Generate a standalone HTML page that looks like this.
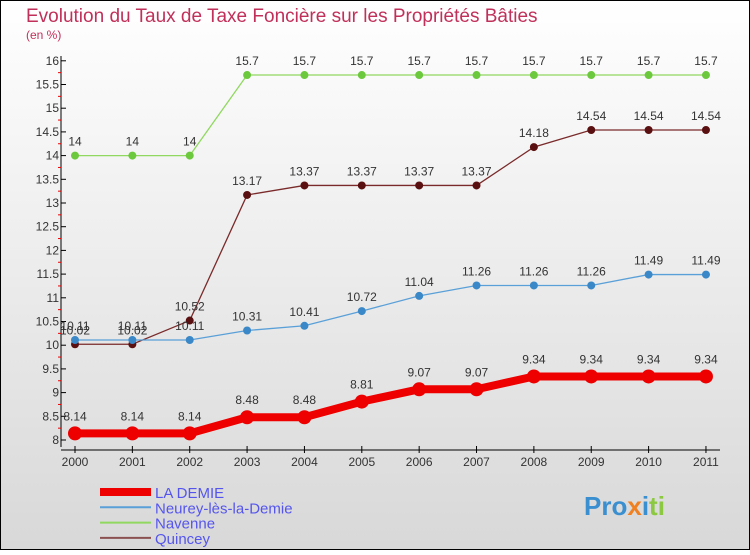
<!DOCTYPE html>
<html><head><meta charset="utf-8"><style>
body{margin:0}
svg text{font-family:"Liberation Sans",sans-serif}
</style></head><body>
<svg width="750" height="550" xmlns="http://www.w3.org/2000/svg">
<defs><linearGradient id="bg" x1="0" y1="0" x2="0" y2="1"><stop offset="0" stop-color="#ffffff"/><stop offset="1" stop-color="#d8d8d8"/></linearGradient></defs>
<rect x="0.5" y="0.5" width="749" height="549" fill="url(#bg)" stroke="#000"/>
<text x="26" y="22" font-size="19" fill="#c0305a">Evolution du Taux de Taxe Foncière sur les Propriétés Bâties</text>
<text x="26" y="39" font-size="12" fill="#c0305a">(en %)</text>
<g id="axes"></g>
<g id="series"></g>
<g id="legend"></g>
<text x="584" y="515" font-size="26" font-weight="bold" fill="#3a8fd0">Pro<tspan fill="#f08020">x</tspan><tspan fill="#3a8fd0">i</tspan><tspan fill="#8cc840">ti</tspan></text>
</svg>
<script>
const years=[2000,2001,2002,2003,2004,2005,2006,2007,2008,2009,2010,2011];
const laDemie=[8.14,8.14,8.14,8.48,8.48,8.81,9.07,9.07,9.34,9.34,9.34,9.34];
const neurey=[10.11,10.11,10.11,10.31,10.41,10.72,11.04,11.26,11.26,11.26,11.49,11.49];
const navenne=[14,14,14,15.7,15.7,15.7,15.7,15.7,15.7,15.7,15.7,15.7];
const quincey=[10.02,10.02,10.52,13.17,13.37,13.37,13.37,13.37,14.18,14.54,14.54,14.54];
const yTicks=[8,8.5,9,9.5,10,10.5,11,11.5,12,12.5,13,13.5,14,14.5,15,15.5,16];
const NS="http://www.w3.org/2000/svg";
const X=i=>75+i*57.36, Y=v=>440-(v-8)*47.4;
function mk(t,a,p){const e=document.createElementNS(NS,t);for(const k in a)e.setAttribute(k,a[k]);p.appendChild(e);return e;}
const ax=document.getElementById('axes');
let yl=mk('line',{x1:61,y1:56,x2:61,y2:447,stroke:'#000'},ax);

let xl=mk('line',{x1:61,y1:450,x2:720,y2:450,stroke:'#000'},ax);

yTicks.forEach(v=>{mk('line',{x1:61,y1:Y(v),x2:66,y2:Y(v),stroke:'#000'},ax);
 if(v<16)mk('line',{x1:58,y1:Y(v+0.25),x2:61,y2:Y(v+0.25),stroke:'#e00'},ax);
 const t=mk('text',{x:59,y:Y(v)+4,'font-size':12,fill:'#333','text-anchor':'end'},ax);t.textContent=v;
 });
years.forEach((y,i)=>{mk('line',{x1:X(i),y1:446,x2:X(i),y2:453,stroke:'#000'},ax);
 const t=mk('text',{x:X(i),y:466,'font-size':12,fill:'#333','text-anchor':'middle'},ax);t.textContent=y;
 });
const sg=document.getElementById('series');
function series(vals,col,dot,w,r,name,fs){
 const g=mk('g',{},sg);
 mk('polyline',{points:vals.map((v,i)=>X(i)+','+Y(v)).join(' '),fill:'none',stroke:col,'stroke-width':w},g);
 vals.forEach((v,i)=>{const c=mk('circle',{cx:X(i),cy:Y(v),r:r,fill:dot},g);
  
  const t=mk('text',{x:X(i),y:Y(v)-(r+6),'font-size':fs,fill:'#333','text-anchor':'middle'},g);t.textContent=v;
  });
}
series(navenne,'#90d860','#6cc83c',1.3,4,'navenne-series',12);
series(quincey,'#7a2a2a','#5a1010',1.3,4,'quincey-series',12);
series(neurey,'#5aa0d8','#3a88c8',1.3,4,'neurey-series',12);
series(laDemie,'#ee0000','#ee0000',8,7,'la-demie-series',12);
const lg=document.getElementById('legend');
[['LA DEMIE','#ee0000',8],['Neurey-lès-la-Demie','#5aa0d8',2],['Navenne','#90d860',2],['Quincey','#8a5050',2]].forEach((d,i)=>{
 const y=492+i*15.3;const g=mk('g',{},lg);
 mk('line',{x1:100,y1:y,x2:151,y2:y,stroke:d[1],'stroke-width':d[2]},g);
 const t=mk('text',{x:155,y:y+6,'font-size':15,fill:'#5555ee'},g);t.textContent=d[0];});
</script>
</body></html>
